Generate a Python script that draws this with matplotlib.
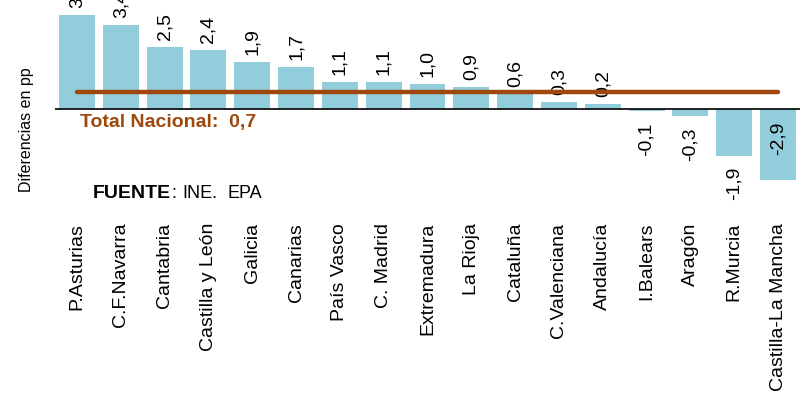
import matplotlib
matplotlib.use("Agg")
import matplotlib.pyplot as plt
import numpy as np

categories = ["P.Asturias", "C.F.Navarra", "Cantabria", "Castilla y León", "Galicia",
              "Canarias", "País Vasco", "C. Madrid", "Extremadura", "La Rioja",
              "Cataluña", "C.Valenciana", "Andalucía", "I.Balears", "Aragón",
              "R.Murcia", "Castilla-La Mancha"]
values = [3.8, 3.4, 2.5, 2.4, 1.9, 1.7, 1.1, 1.1, 1.0, 0.9, 0.6, 0.3, 0.2,
          -0.1, -0.3, -1.9, -2.9]
total_nacional = 0.7

plt.rcParams['font.family'] = ['Liberation Sans', 'DejaVu Sans']

BAR = '#92CDDC'
BROWN = '#9E480E'

fig = plt.figure(figsize=(8.01, 3.96), dpi=100)
ax = fig.add_axes([55/801, 0.5076, 745/801, 0.497])
x = np.arange(len(categories))
ax.bar(x, values, width=0.82, color=BAR, zorder=2)
ax.axhline(0, color='black', lw=1.2, zorder=3)
ax.plot([x[0], x[-1]], [total_nacional, total_nacional], color=BROWN, lw=3.2,
        solid_capstyle='round', zorder=4)
ax.set_xlim(-0.5, len(categories) - 0.5)
ax.set_ylim(-3.5, 4.5)
for s in ax.spines.values():
    s.set_visible(False)
ax.set_yticks([])
ax.set_xticks(x)
ax.set_xticklabels(categories, rotation=90, fontsize=14, va='top', ha='center')
ax.tick_params(axis='x', length=0, pad=20)

ymin = -3.5
VF = 14
for xi, v in zip(x, values):
    lab = f"{v:.1f}".replace('.', ',')
    if v >= 0:
        ax.annotate(lab, (xi, v), xytext=(0, 5), textcoords='offset points',
                    rotation=90, ha='center', va='bottom', fontsize=VF)
    elif v - 1.5 < ymin:
        ax.annotate(lab, (xi, 0), xytext=(0, -9), textcoords='offset points',
                    rotation=90, ha='center', va='top', fontsize=VF)
    else:
        ax.annotate(lab, (xi, v), xytext=(0, -8), textcoords='offset points',
                    rotation=90, ha='center', va='top', fontsize=VF)

fig.text(80/801, 1 - 122/396, "Total Nacional:  0,7", color=BROWN, fontsize=14,
         fontweight='bold', ha='left', va='center')
yf = 1 - 193/396
fig.text(93/801, yf, "FUENTE", fontsize=14, fontweight='bold', ha='left', va='center')
fig.text(171/801, yf, ":", fontsize=13, ha='left', va='center')
fig.text(182/801, yf, "INE.", fontsize=13, ha='left', va='center')
fig.text(227/801, yf, "EPA", fontsize=13, ha='left', va='center')
fig.text(27/801, 1 - 130/396, "Diferencias en pp", rotation=90, fontsize=11.5,
         ha='center', va='center')

fig.savefig("out.png", dpi=100)
